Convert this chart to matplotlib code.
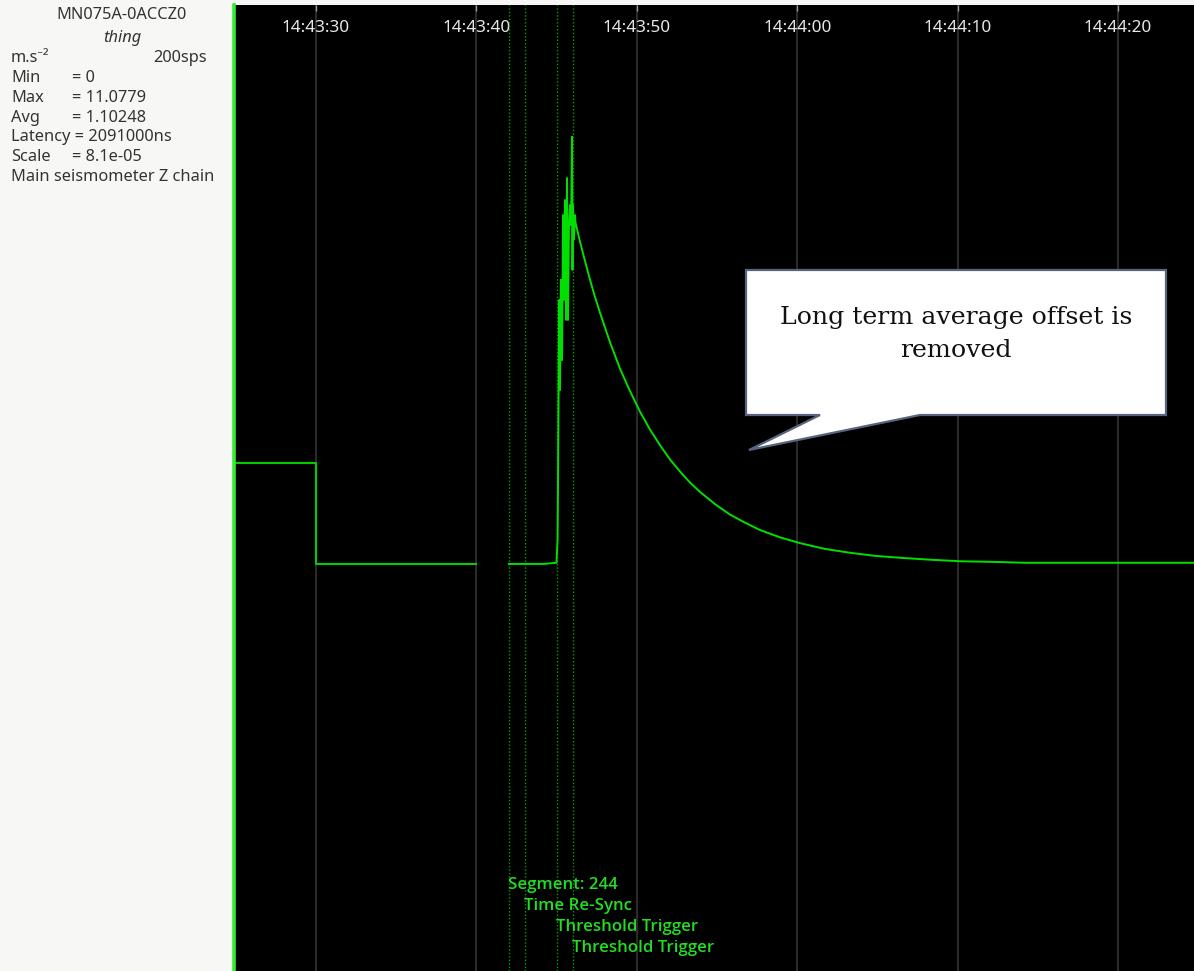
import matplotlib
matplotlib.use('Agg')
import numpy as np
import matplotlib.pyplot as plt
from matplotlib.patches import Polygon
from matplotlib.lines import Line2D
import matplotlib.transforms as mtransforms

# tiempo en segundos despues de 14:43:00, valores en m.s-2
t_pre = [24.95, 30.0, 30.0, 40.0]
v_pre = [2.62, 2.62, 0.0, 0.0]

t_main = [42.03, 44.2, 44.99, 45.06, 45.09, 45.12, 45.15, 45.18, 45.21, 45.27,
          45.34, 45.40, 45.46, 45.52, 45.59, 45.65, 45.71, 45.77, 45.84, 45.90,
          45.96, 45.99, 46.02, 46.08, 46.15, 46.18,
          46.46, 46.77, 47.08, 47.39, 47.71, 48.33, 48.95, 49.58, 50.20, 50.82,
          51.45, 52.07, 52.69, 53.32, 53.94, 54.88, 55.81, 56.75, 57.68, 58.93,
          60.17, 61.73, 63.29, 64.85, 66.41, 68.28, 70.15, 72.64, 74.20, 84.74]
v_main = [0.0, 0.0, 0.03, 0.62, 2.18, 4.25, 6.07, 6.85, 4.51, 7.37,
          5.29, 9.05, 6.85, 9.44, 6.33, 10.01, 6.33, 8.67, 9.31, 8.79,
          11.08, 7.63, 9.31, 8.41, 9.05, 8.85,
          8.36, 7.86, 7.38, 6.93, 6.51, 5.75, 5.07, 4.48, 3.95, 3.49,
          3.08, 2.71, 2.40, 2.11, 1.87, 1.55, 1.28, 1.07, 0.88, 0.69,
          0.54, 0.39, 0.29, 0.21, 0.16, 0.11, 0.07, 0.05, 0.03, 0.03]

tick_pos = [30, 40, 50, 60, 70, 80]
tick_lbl = ['14:43:30', '14:43:40', '14:43:50', '14:44:00', '14:44:10', '14:44:20']

event_t = [42.03, 43.03, 45.02, 46.02]
event_lbl = ['Segment: 244', 'Time Re-Sync', 'Threshold Trigger', 'Threshold Trigger']

info_lbl = ['Min', 'Max', 'Avg']
info_val = ['= 0', '= 11.0779', '= 1.10248']

W, H = 1194, 971
fig = plt.figure(figsize=(W / 100, H / 100), dpi=100)
fig.patch.set_facecolor('#f7f7f5')

ax = fig.add_axes([235 / W, 0, 1 - 235 / W, (H - 5) / H])
ax.set_facecolor('black')
for s in ax.spines.values():
    s.set_visible(False)
ax.set_xlim(24.95, 84.74)
ax.set_ylim(-10.56, 14.50)
ax.set_yticks([])
ax.xaxis.tick_top()
ax.set_xticks(tick_pos)
ax.set_xticklabels(tick_lbl, family='Noto Sans', fontsize=12.3, color='#e8e8e8')
ax.tick_params(axis='x', direction='in', length=4, width=1, color='#9a9a9a', pad=-22)
ax.grid(axis='x', color='#2a2a2a', linewidth=1.5)

for te in event_t:
    ax.axvline(te, color='#00a000', linestyle=(0, (1, 1.5)), linewidth=1.0)

ax.plot(t_pre, v_pre, color='#00cc00', linewidth=1.5)
ax.plot(t_main, v_main, color='#00e000', linewidth=1.4)

trans = mtransforms.blended_transform_factory(ax.transData, ax.transAxes)
for i, (te, lb) in enumerate(zip(event_t, event_lbl)):
    ax.text(te - 0.05, 0.0895 - i * 0.0218, lb, transform=trans, color='#22dd22',
            family='Open Sans', fontsize=12.2, fontweight='semibold', va='center', ha='left')

# linea verde del borde
fig.add_artist(Line2D([233.5 / W, 233.5 / W], [0, (H - 5) / H], color='#33ee33',
                      linewidth=2.6, transform=fig.transFigure))

# panel de la izquierda
def fy(y):
    return 1 - y / H

tc = '#333333'
fam = ['Noto Sans', 'DejaVu Sans']
fs = 11.8
fig.text(122 / W, fy(15), 'MN075A-0ACCZ0', ha='center', va='center', color=tc, family=fam, fontsize=fs)
fig.text(122 / W, fy(38), 'thing', ha='center', va='center', color=tc, family=fam, fontsize=fs, style='italic')
fig.text(11 / W, fy(58), 'm.s⁻²', ha='left', va='center', color=tc, family=fam, fontsize=fs)
fig.text(207 / W, fy(58), '200sps', ha='right', va='center', color=tc, family=fam, fontsize=fs)
for i, (lb, vl) in enumerate(zip(info_lbl, info_val)):
    fig.text(11 / W, fy(78 + 20 * i), lb, ha='left', va='center', color=tc, family=fam, fontsize=fs)
    fig.text(72 / W, fy(78 + 20 * i), vl, ha='left', va='center', color=tc, family=fam, fontsize=fs)
fig.text(11 / W, fy(137), 'Latency = 2091000ns', ha='left', va='center', color=tc, family=fam, fontsize=fs)
fig.text(11 / W, fy(157), 'Scale', ha='left', va='center', color=tc, family=fam, fontsize=fs)
fig.text(72 / W, fy(157), '= 8.1e-05', ha='left', va='center', color=tc, family=fam, fontsize=fs)
fig.text(11 / W, fy(177), 'Main seismometer Z chain', ha='left', va='center', color=tc, family=fam, fontsize=fs)

# globo de texto
pts = [(746, 270), (1166, 270), (1166, 415), (920, 415), (749, 450), (820, 415), (746, 415)]
poly = Polygon([(x / W, fy(y)) for x, y in pts], closed=True, facecolor='white',
               edgecolor='#56657c', linewidth=1.6, transform=fig.transFigure, zorder=5)
fig.add_artist(poly)
fig.text(956 / W, fy(334), 'Long term average offset is\nremoved', ha='center', va='center',
         family='DejaVu Serif', fontsize=18.2, color='#111111', linespacing=1.6, zorder=6)

fig.savefig('out.png', dpi=100, facecolor=fig.get_facecolor())
